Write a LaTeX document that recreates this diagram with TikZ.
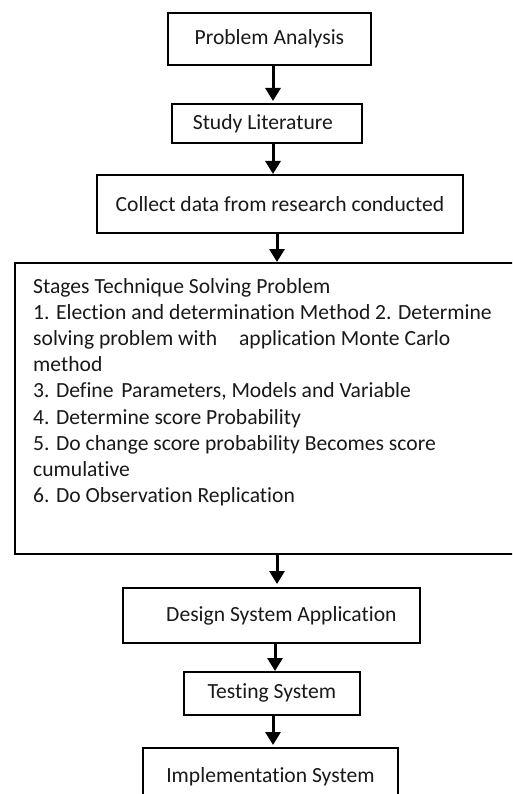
\documentclass[tikz,border=0pt]{standalone}
\usepackage{fontspec}
\setmainfont{Carlito}[Ligatures={NoCommon,NoRare,NoContextual},Contextuals={NoAlternate}]
\usetikzlibrary{arrows.meta}
\begin{document}
\begin{tikzpicture}[x=1pt,y=-1pt,
  box/.style={draw=black,line width=1.8pt,anchor=north west,inner sep=0pt,
    font={\fontsize{21.6pt}{26.2pt}\selectfont},text=black!90},
  arr/.style={line width=3pt,-{Triangle[width=15pt,length=13pt]}},
  line/.style={anchor=base west,inner sep=0pt,
    font={\fontsize{21.6pt}{26.2pt}\selectfont},text=black!90}]
\clip (0,0) rectangle (512,794);
\fill[white] (0,0) rectangle (512,794);
% boxes
\node[box,minimum width=203pt,minimum height=52pt] (b1) at (167,12) {Problem Analysis};
\node[box,minimum width=190pt,minimum height=39pt] (b2) at (171,103) {Study Literature\hspace*{8pt}};
\node[box,minimum width=366pt,minimum height=58pt] (b3) at (96,174) {Collect data from research conducted};
\node[box,minimum width=510pt,minimum height=291pt] (b4) at (14,262) {};
\node[box,minimum width=297pt,minimum height=55pt] (b5) at (122,587) {\hspace*{20pt}Design System Application};
\node[box,minimum width=176pt,minimum height=43pt] (b6) at (183,671) {Testing System};
\node[box,minimum width=255pt,minimum height=58pt] (b7) at (142,747) {Implementation System};
% text of the big box
\foreach \i/\t in {1/{Stages Technique Solving Problem},
  2/{1. Election and determination Method 2. Determine},
  3/{solving problem with\hspace{22pt}application Monte Carlo},
  4/{method},
  5/{3. Define\hspace{3pt} Parameters, Models and Variable},
  6/{4. Determine score Probability},
  7/{5. Do change score probability Becomes score},
  8/{cumulative},
  9/{6. Do Observation Replication}}
  \node[line] (t\i) at (33,{293+(\i-1)*26.2}) {\t};
% arrow columns
\coordinate (c1) at (273,0);
\coordinate (c2) at (273,0);
\coordinate (c3) at (277,0);
\coordinate (c4) at (277,0);
\coordinate (c5) at (275,0);
\coordinate (c6) at (273,0);
\draw[arr,shorten >=2pt] (b1.south -| c1) -- (b2.north -| c1);
\draw[arr] (b2.south -| c2) -- (b3.north -| c2);
\draw[arr] (b3.south -| c3) -- (b4.north -| c3);
\draw[arr,shorten >=3pt] (b4.south -| c4) -- (b5.north -| c4);
\draw[arr] (b5.south -| c5) -- (b6.north -| c5);
\draw[arr,shorten >=2pt] (b6.south -| c6) -- (b7.north -| c6);
\end{tikzpicture}
\end{document}
